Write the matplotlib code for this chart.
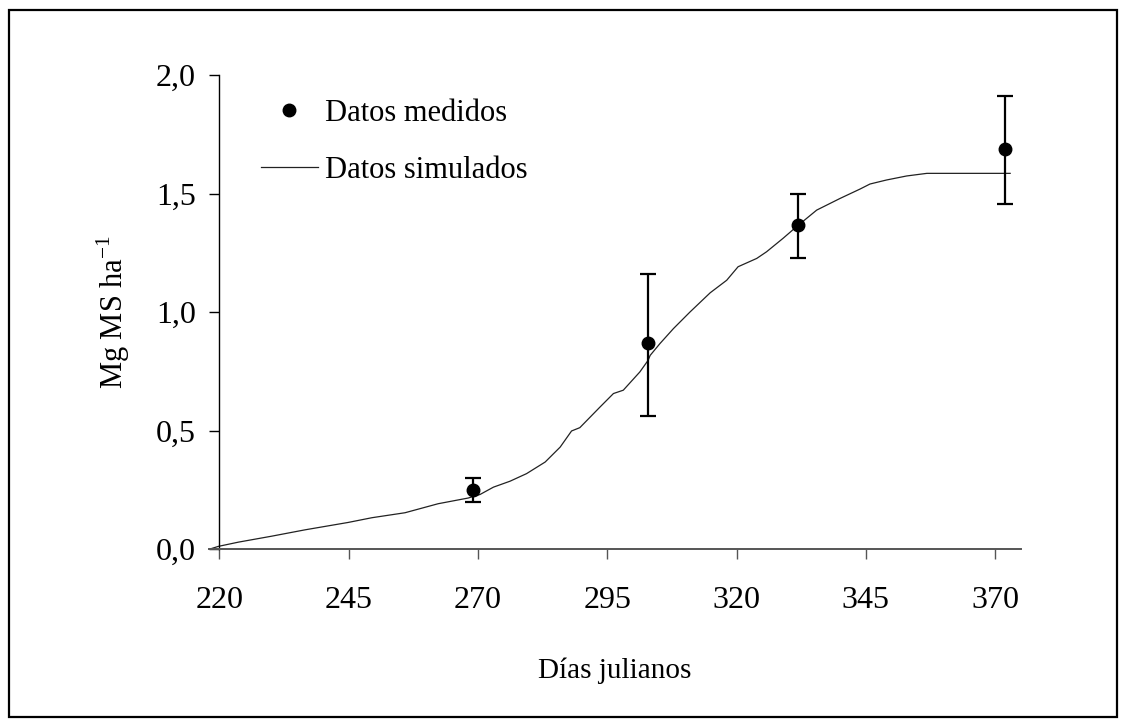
import matplotlib
matplotlib.use("Agg")
import matplotlib.pyplot as plt
from matplotlib.patches import Rectangle
from matplotlib.lines import Line2D

# measured data (mean and error bar limits)
dias_med = [269, 302.9, 331.9, 371.9]
ms_med = [0.251, 0.869, 1.368, 1.688]
ms_low = [0.198, 0.561, 1.229, 1.455]
ms_high = [0.299, 1.160, 1.498, 1.913]

# simulated curve
dias_sim = [218.2, 219.8, 223.7, 230.1, 236.6, 244.9, 249.5, 255.9, 262.3, 268.1,
            270.4, 273.0, 276.2, 279.4, 283.0, 285.9, 288.1, 289.7, 293.6, 296.2,
            298.1, 301.3, 302.9, 303.3, 305.2, 307.8, 311.0, 314.9, 318.1, 320.3,
            323.9, 325.8, 329.0, 331.6, 335.5, 340.0, 343.9, 345.8, 349.0, 352.9,
            356.8, 372.9]
ms_sim = [0.000, 0.011, 0.029, 0.054, 0.081, 0.112, 0.132, 0.153, 0.191, 0.215,
          0.230, 0.261, 0.286, 0.318, 0.367, 0.430, 0.498, 0.512, 0.599, 0.656,
          0.670, 0.747, 0.796, 0.817, 0.867, 0.930, 1.000, 1.081, 1.134, 1.191,
          1.226, 1.254, 1.311, 1.360, 1.430, 1.479, 1.519, 1.540, 1.557, 1.574,
          1.585, 1.585]

xticks = [220, 245, 270, 295, 320, 345, 370]
yticks = [0.0, 0.5, 1.0, 1.5, 2.0]
ytick_labels = ["0,0", "0,5", "1,0", "1,5", "2,0"]

plt.rcParams["font.family"] = ["Liberation Serif", "DejaVu Serif"]
plt.rcParams["mathtext.fontset"] = "custom"
plt.rcParams["mathtext.rm"] = "Liberation Serif"

fig = plt.figure(figsize=(11.27, 7.27), dpi=100)
ax = fig.add_axes([209 / 1127, 1 - 549 / 727, (1021 - 209) / 1127, (549 - 75) / 727])

yerr = [[m - l for m, l in zip(ms_med, ms_low)], [h - m for m, h in zip(ms_med, ms_high)]]
ax.errorbar(dias_med, ms_med, yerr=yerr, fmt="o", color="black", ms=9,
            elinewidth=1.6, capsize=6, capthick=1.6, zorder=3)
ax.plot(dias_sim, ms_sim, color="#222222", lw=0.9, zorder=2)

ax.set_xlim(218, 375)
ax.set_ylim(0, 2.0)
ax.set_xticks(xticks)
ax.set_yticks(yticks)
ax.set_yticklabels(ytick_labels)

ax.spines["top"].set_visible(False)
ax.spines["right"].set_visible(False)
ax.spines["left"].set_position(("data", 220))
ax.spines["left"].set_linewidth(1.0)
ax.spines["bottom"].set_color("#555555")
ax.spines["bottom"].set_linewidth(1.4)
ax.tick_params(axis="both", direction="out", length=7, width=1, labelsize=23, color="black")
ax.tick_params(axis="x", pad=20, color="#555555")
ax.tick_params(axis="y", pad=10)

ax.set_xlabel("Días julianos", fontsize=21, labelpad=30)
ax.set_ylabel("Mg MS ha$^{\\mathrm{-1}}$", fontsize=22, labelpad=17)

handles = [Line2D([], [], ls="none", marker="o", color="black", ms=9),
           Line2D([], [], color="#222222", lw=0.9)]
labels = ["Datos medidos", "Datos simulados"]
ax.legend(handles, labels, loc="upper left", bbox_to_anchor=(0.049, 0.975),
          frameon=False, fontsize=22, handlelength=1.85, handletextpad=0.25,
          labelspacing=0.9, borderaxespad=0)

fig.patches.append(Rectangle((9 / 1127, 10 / 727), 1108 / 1127, 707 / 727,
                             transform=fig.transFigure, fill=False, lw=1.6,
                             edgecolor="black"))

fig.savefig("out.png", dpi=100)
